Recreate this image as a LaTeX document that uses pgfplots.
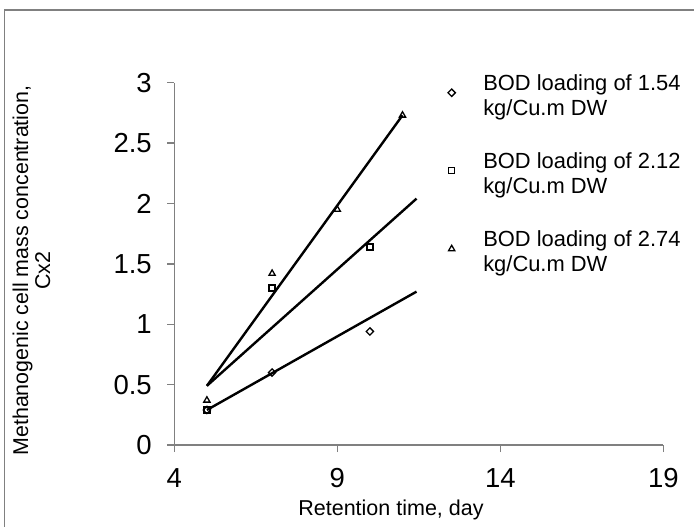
\documentclass[border=0pt]{standalone}
\usepackage{fontspec}
\setmainfont{Liberation Sans}
\usepackage{pgfplots}
\pgfplotsset{compat=1.18}
\definecolor{axisgray}{RGB}{128,128,128}

\begin{document}
\begin{tikzpicture}[x=1pt,y=1pt]
\useasboundingbox (0,0) rectangle (694,-527);
% chart area border (right and bottom edges lie outside the crop)
\draw[axisgray, line width=1.3pt] (4.7,-620) -- (4.7,-10) -- (780,-10);
\begin{axis}[
    at={(174.3pt,-445pt)}, anchor=south west,
    scale only axis, width=489pt, height=362.3pt,
    xmin=4, xmax=19, ymin=0, ymax=3,
    xtick={4,9,14,19}, ytick={0,0.5,1,1.5,2,2.5,3},
    axis lines*=left,
    axis line style={axisgray, line width=1.3pt},
    tick style={axisgray, line width=1.3pt},
    tick align=outside, major tick length=7pt,
    tick label style={font=\fontsize{27.5}{30}\selectfont, black},
    yticklabel style={xshift=-12pt},
    xticklabel style={yshift=-13pt},
    /pgf/number format/assume math mode=true,
    clip=false,
    legend style={
      at={(0.555,1.0215)}, anchor=north west,
      draw=none, fill=none, inner sep=0pt, outer sep=0pt,
      row sep=36.4pt, column sep=0pt,
      font=\fontsize{21.9}{24.3}\selectfont,
      cells={anchor=west, align=left},
      nodes={inner sep=0pt},
    },
    legend image code/.code={
      \path[draw=none, fill=none] (-6pt,0pt) rectangle (31.6pt,0pt);
      \draw[#1] plot coordinates {(0pt,3pt)};
    },
  ]
  % straight lines drawn through the data
  \addplot[black, line width=2.4pt, forget plot] coordinates {(5,0.29) (11.43,1.27)};
  \addplot[black, line width=2.4pt, forget plot] coordinates {(5,0.49) (11.43,2.04)};
  \addplot[black, line width=2.4pt, forget plot] coordinates {(5,0.49) (11,2.73)};

  \addplot[only marks, mark=square, mark size=2.6pt,
    mark options={rotate=45, draw=black, fill=white, line width=1.3pt}]
    coordinates {(5,0.29) (7,0.60) (10,0.94)};
  \addlegendentry{BOD loading of 1.54\\kg/Cu.m DW}
  \addplot[only marks, mark=square, mark size=3pt,
    mark options={draw=black, fill=white, line width=1.3pt}]
    coordinates {(5,0.29) (7,1.30) (10,1.64)};
  \addlegendentry{BOD loading of 2.12\\kg/Cu.m DW}
  \addplot[only marks, mark=triangle, mark size=3.6pt,
    mark options={draw=black, fill=white, line width=1.3pt}]
    coordinates {(5,0.37) (7,1.42) (9,1.95) (11,2.73)};
  \addlegendentry{BOD loading of 2.74\\kg/Cu.m DW}
\end{axis}
\node[anchor=base, font=\fontsize{21.5}{24}\selectfont] at (391,-515) {Retention time, day};
\node[rotate=90, align=center, inner sep=0pt, font=\fontsize{21.4}{22}\selectfont]
  at (31.5,-270.5) {Methanogenic cell mass concentration,\\Cx2};
\end{tikzpicture}
\end{document}
